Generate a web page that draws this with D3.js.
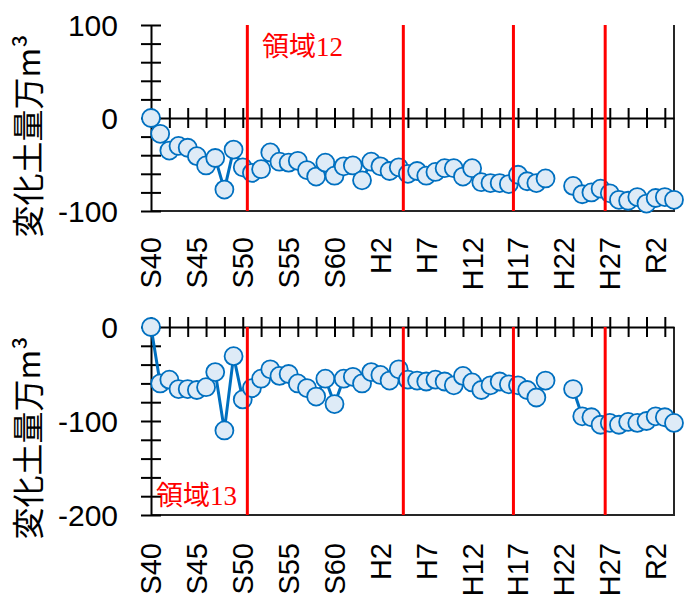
<!DOCTYPE html>
<html>
<head>
<meta charset="utf-8">
<script src="https://cdn.jsdelivr.net/npm/d3@7"></script>
<style>
  html, body { margin: 0; padding: 0; background: #fff; }
  svg { display: block; }
</style>
</head>
<body>
<svg id="chart" width="697" height="597"></svg>
<script>
// one point per year, S40 (1965) .. R4 (2022)
const years = [1965, 1966, 1967, 1968, 1969, 1970, 1971, 1972, 1973, 1974,
  1975, 1976, 1977, 1978, 1979, 1980, 1981, 1982, 1983, 1984,
  1985, 1986, 1987, 1988, 1989, 1990, 1991, 1992, 1993, 1994,
  1995, 1996, 1997, 1998, 1999, 2000, 2001, 2002, 2003, 2004,
  2005, 2006, 2007, 2008, 2009, 2010, 2011, 2012, 2013, 2014,
  2015, 2016, 2017, 2018, 2019, 2020, 2021, 2022];

// 変化土量 (万m3), null = no survey
const area12 = [0, -17, -35, -30, -32, -41, -51, -43, -77, -34,
  -53, -59, -55, -37, -47, -48, -46, -56, -63, -48,
  -62, -52, -51, -67, -47, -52, -57, -53, -60, -57,
  -62, -58, -54, -54, -63, -54, -69, -70, -70, -71,
  -61, -68, -70, -65, null, null, -73, -82, -80, -76,
  -81, -88, -89, -85, -92, -86, -85, -88];

const area13 = [0, -60, -56, -66, -66, -67, -64, -48, -110, -31,
  -77, -65, -55, -45, -52, -50, -60, -65, -74, -55,
  -82, -55, -53, -60, -48, -51, -57, -45, -56, -57,
  -58, -56, -58, -62, -52, -59, -67, -62, -58, -61,
  -62, -67, -75, -57, null, null, -66, -95, -96, -104,
  -102, -104, -101, -102, -100, -95, -96, -102];

const labelYears = [1965, 1970, 1975, 1980, 1985, 1990, 1995, 2000, 2005, 2010, 2015, 2020];
const labelText = ["S40", "S45", "S50", "S55", "S60", "H2", "H7", "H12", "H17", "H22", "H27", "R2"];
const tickYears = [1965, 1967, 1969, 1971, 1973, 1975, 1977, 1979, 1981, 1983,
  1985, 1987, 1989, 1991, 1993, 1995, 1997, 1999, 2001, 2003,
  2005, 2007, 2009, 2011, 2013, 2015, 2017, 2019, 2021];

// red separators drawn between surveys
const breakYears = [1975.5, 1992.5, 2004.5, 2014.5];

const svg = d3.select("#chart");
const blue = "#0070C0";
const tickFont = "'Liberation Sans', Arial, sans-serif";

const x = d3.scaleLinear().domain([1965, 2022]).range([151, 674]);

const panels = [
  { values: area12, note: "領域12", domain: [-100, 100], yLabels: [100, 0, -100],
    top: 25, bottom: 211, labelY: 237, noteX: 262, noteY: 56, titleY: 136 },
  { values: area13, note: "領域13", domain: [-200, 0], yLabels: [0, -100, -200],
    top: 327, bottom: 515, labelY: 543, noteX: 156, noteY: 505, titleY: 438 }
];

panels.forEach(p => {
  const y = d3.scaleLinear().domain(p.domain).range([p.bottom, p.top]);
  const g = svg.append("g");

  // plot area border (right + bottom)
  g.append("path")
    .attr("d", `M${x.range()[0]},${p.bottom}H${x.range()[1]}V${y(p.domain[1])}`)
    .attr("fill", "none")
    .attr("stroke", "#262626")
    .attr("stroke-width", 2);

  // y axis, cross ticks every 20
  const yAxis = d3.axisLeft(y)
    .tickValues(d3.range(p.domain[0], p.domain[1] + 1, 20))
    .tickSizeOuter(0)
    .tickFormat(d => p.yLabels.includes(d) ? String(d) : "");
  g.append("g")
    .attr("transform", `translate(${x.range()[0]},0)`)
    .call(yAxis)
    .call(a => a.select(".domain").attr("stroke", "#000").attr("stroke-width", 2))
    .call(a => a.selectAll(".tick line").attr("x1", -10).attr("x2", 10)
      .attr("stroke", "#000").attr("stroke-width", 2))
    .call(a => a.selectAll(".tick text").attr("x", -33).attr("dy", "0.35em")
      .attr("fill", "#000").style("font-family", tickFont).style("font-size", "30px"));

  // x axis at zero
  const xAxis = d3.axisBottom(x).tickValues(tickYears).tickSizeOuter(0).tickFormat("");
  g.append("g")
    .attr("transform", `translate(0,${y(0)})`)
    .call(xAxis)
    .call(a => a.select(".domain").attr("stroke", "#000").attr("stroke-width", 2))
    .call(a => a.selectAll(".tick line").attr("y1", -10).attr("y2", 10)
      .attr("stroke", "#000").attr("stroke-width", 2));

  // era labels below the plot
  g.append("g").selectAll("text")
    .data(labelYears)
    .join("text")
    .attr("transform", (d, i) => `translate(${x(d)},${p.labelY}) rotate(-90)`)
    .attr("dy", "0.36em")
    .attr("text-anchor", "end")
    .style("font-family", tickFont)
    .style("font-size", "29px")
    .text((d, i) => labelText[i]);

  // series
  const pts = years.map((yr, i) => ({ yr, v: p.values[i] }));
  const line = d3.line()
    .defined(d => d.v != null)
    .x(d => x(d.yr))
    .y(d => y(d.v));
  g.append("path")
    .datum(pts)
    .attr("d", line)
    .attr("fill", "none")
    .attr("stroke", blue)
    .attr("stroke-width", 3);

  g.append("g").selectAll("circle")
    .data(pts.filter(d => d.v != null))
    .join("circle")
    .attr("cx", d => x(d.yr))
    .attr("cy", d => y(d.v))
    .attr("r", 9)
    .attr("fill", "#DEEBF7")
    .attr("stroke", blue)
    .attr("stroke-width", 1.8);

  // red survey-area separators
  g.append("g").selectAll("line")
    .data(breakYears)
    .join("line")
    .attr("x1", d => x(d)).attr("x2", d => x(d))
    .attr("y1", p.top).attr("y2", p.bottom)
    .attr("stroke", "#FF0000")
    .attr("stroke-width", 3);

  g.append("text")
    .attr("x", p.noteX)
    .attr("y", p.noteY)
    .attr("fill", "#FF0000")
    .style("font-family", "'Liberation Serif', 'Noto Sans CJK JP', serif")
    .style("font-size", "27px")
    .text(p.note);

  // y title
  g.append("text")
    .attr("transform", `translate(28,${p.titleY}) rotate(-90)`)
    .attr("dy", "0.38em")
    .attr("text-anchor", "middle")
    .style("font-family", "'Noto Sans CJK JP', sans-serif")
    .style("font-size", "32px")
    .text("変化土量万m³");
});
</script>
</body>
</html>
